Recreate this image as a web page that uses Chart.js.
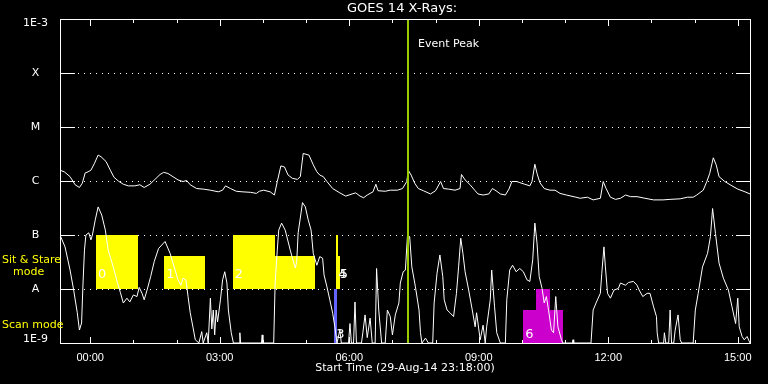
<!DOCTYPE html>
<html>
<head>
<meta charset="utf-8">
<script src="https://cdn.jsdelivr.net/npm/chart.js@4.4.1/dist/chart.umd.min.js"></script>
<style>
  html, body { margin: 0; padding: 0; background: #000; }
</style>
</head>
<body>
<canvas id="goes" width="768" height="384"></canvas>
<script>
// times are minutes after 00:00 on 30-Aug-14, fluxes are log10(W/m^2)
const startLabel = 'Start Time (29-Aug-14 23:18:00)';
const xMin = -42;
const xMax = 917;
const hourTicks = [0, 60, 120, 180, 240, 300, 360, 420, 480, 540, 600, 660, 720, 780, 840, 900];

const yTickValues = [1e-9, 1e-8, 1e-7, 1e-6, 1e-5, 1e-4, 1e-3];
const yTickLabels = ['1E-9', 'A', 'B', 'C', 'M', 'X', '1E-3'];

// long channel (1-8 A)
const longTime = [-42,-36,-28,-21,-15,-11,-7,-3,1,6,11,15,22,28,33,39,46,53,62,69,75,83,90,97,102,108,115,122,129,134,139,148,157,167,178,184,188,195,203,211,223,231,235,241,250,256,260,265,270,275,281,288,292,296,304,310,315,319,324,329,337,347,355,364,369,375,380,385,393,397,400,410,417,427,434,440,442,446,451,456,463,473,480,487,491,498,507,514,516,521,528,535,539,546,554,559,564,570,577,582,586,593,597,604,611,614,618,621,625,631,639,646,653,662,675,681,691,699,709,713,717,723,730,737,744,751,760,771,783,796,806,820,830,838,843,852,857,861,866,870,874,882,892,900,910,917];
const longLog = [-5.80,-5.83,-5.92,-6.07,-6.12,-6.04,-5.85,-5.83,-5.80,-5.67,-5.52,-5.55,-5.64,-5.80,-5.93,-6.00,-6.06,-6.09,-6.09,-6.07,-6.12,-6.06,-5.97,-5.88,-5.84,-5.86,-5.92,-5.98,-6.01,-5.99,-6.07,-6.14,-6.15,-6.17,-6.20,-6.17,-6.09,-6.14,-6.19,-6.20,-6.21,-6.23,-6.19,-6.17,-6.20,-6.26,-6.01,-5.72,-5.74,-5.89,-5.95,-5.97,-5.92,-5.49,-5.52,-5.70,-5.83,-5.89,-5.92,-6.01,-6.14,-6.22,-6.28,-6.24,-6.22,-6.28,-6.31,-6.26,-6.20,-6.06,-6.18,-6.19,-6.17,-6.17,-6.14,-6.01,-5.80,-5.89,-6.04,-6.14,-6.18,-6.24,-6.18,-6.01,-6.14,-6.15,-6.17,-6.14,-5.88,-5.98,-6.07,-6.18,-6.24,-6.26,-6.24,-6.14,-6.18,-6.24,-6.26,-6.15,-6.01,-6.01,-6.03,-6.06,-6.09,-6.01,-5.69,-5.86,-6.03,-6.14,-6.17,-6.17,-6.23,-6.26,-6.30,-6.32,-6.30,-6.35,-6.32,-6.01,-6.14,-6.30,-6.34,-6.32,-6.26,-6.29,-6.29,-6.32,-6.35,-6.35,-6.34,-6.33,-6.30,-6.30,-6.26,-6.17,-6.01,-5.86,-5.57,-5.70,-5.92,-6.01,-6.09,-6.15,-6.20,-6.24];

// short channel (0.5-4 A), -9 is the floor of the plot
const shortTime = [-42,-35,-28,-23,-18,-15,-12,-10,-8,-6,-2,1,3,7,11,16,21,25,32,38,42,46,51,55,60,65,68,72,75,79,84,89,95,104,111,118,122,126,129,133,136,139,143,146,151,155,157,162,164,167,169,171,173,175,177,181,184,187,190,192,196,199,207,208,209,238,239,240,255,257,260,262,266,271,278,281,285,287,289,293,295,299,303,307,310,315,319,323,325,329,333,337,340,343,347,349,359,361,363,366,368,370,377,379,382,385,389,392,396,398,401,405,410,413,417,420,424,429,431,435,438,441,444,447,452,457,459,461,466,470,476,478,482,486,490,492,496,500,505,509,512,515,518,521,526,531,535,537,542,546,549,551,556,558,562,565,570,577,579,583,587,592,597,602,607,611,615,618,621,624,628,631,634,637,641,644,647,650,655,657,670,671,672,696,699,703,709,711,714,716,719,723,728,734,737,744,748,755,760,763,768,774,778,783,787,788,790,797,798,800,804,806,808,811,813,817,820,822,838,841,845,851,858,862,865,869,874,880,887,892,897,900,902,906,909,913,917];
const shortLog = [-7.00,-7.22,-7.65,-8.02,-8.44,-8.76,-8.63,-7.89,-7.28,-7.00,-6.96,-7.09,-7.00,-6.72,-6.48,-6.63,-6.91,-7.28,-7.59,-7.89,-8.07,-8.26,-8.17,-8.24,-8.11,-8.14,-7.97,-8.08,-8.20,-8.02,-7.77,-7.49,-7.25,-7.12,-7.34,-7.65,-7.83,-7.93,-7.80,-7.83,-8.14,-8.44,-8.72,-8.94,-9,-8.79,-9,-8.81,-9,-8.17,-8.74,-8.39,-8.85,-8.39,-8.61,-8.20,-7.83,-7.68,-7.89,-8.39,-8.81,-9,-9,-8.81,-9,-9,-8.85,-9,-9,-7.89,-7.28,-6.91,-6.78,-6.91,-7.28,-7.43,-7.61,-7.50,-6.96,-6.59,-6.40,-6.48,-6.72,-6.91,-7.34,-7.56,-7.40,-7.43,-7.74,-7.96,-8.20,-8.45,-8.70,-9,-8.76,-9,-9,-8.64,-9,-9,-8.24,-9,-9,-8.80,-8.48,-8.90,-8.54,-9,-9,-7.62,-8.39,-9,-9,-8.39,-8.51,-8.85,-8.48,-8.26,-7.89,-7.68,-7.65,-7.00,-7.03,-7.59,-7.96,-8.39,-8.81,-9,-8.91,-9,-9,-8.26,-7.71,-7.37,-7.77,-8.20,-8.39,-8.44,-8.51,-8.08,-7.59,-7.06,-7.34,-7.68,-8.02,-8.39,-8.70,-8.44,-8.94,-8.67,-9,-8.70,-8.20,-7.65,-8.33,-8.81,-9,-9,-8.20,-7.65,-7.56,-7.68,-7.62,-7.68,-7.83,-7.86,-7.46,-6.78,-7.15,-7.77,-7.99,-8.26,-8.14,-8.39,-8.76,-8.81,-8.14,-8.70,-8.94,-9,-9,-8.94,-9,-9,-8.39,-8.26,-8.08,-7.71,-7.22,-7.59,-8.08,-8.17,-8.02,-7.99,-7.89,-7.93,-7.88,-7.86,-7.93,-8.02,-8.14,-8.08,-8.08,-8.33,-8.51,-8.81,-9,-9,-8.81,-9,-9,-8.39,-9,-9,-8.76,-8.48,-8.94,-9,-9,-8.39,-8.08,-7.59,-7.34,-7.03,-6.51,-6.97,-7.52,-7.80,-8.02,-8.33,-8.64,-8.17,-8.70,-8.88,-8.94,-8.88,-9];

// observing schedule: sit & stare (yellow) and scan (blue / magenta) blocks
const schedStart = [8, 103, 198, 257, 339, 342, 344, 602, 620];
const schedEnd = [66, 160, 257, 312, 343, 344, 346, 657, 639];
const schedBottom = [-8, -8, -8, -8, -9, -8, -8, -9, -9];
const schedTop = [-7, -7.39, -7, -7.39, -8, -7, -7.39, -8.39, -8];
const schedLabel = ['0', '1', '2', '', '3', '4', '5', '6', ''];
const schedColor = ['#ffff00', '#ffff00', '#ffff00', '#ffff00', '#6464ff', '#ffff00', '#ffff00', '#cc00cc', '#cc00cc'];

const eventPeak = 441;

function toPoints(times, logs) {
  return times.map((t, i) => ({ x: t, y: Math.pow(10, logs[i]) }));
}

function hhmm(min) {
  const h = Math.floor(min / 60);
  return String(h).padStart(2, '0') + ':00';
}

const goesFrame = {
  id: 'goesFrame',
  beforeDatasetsDraw(chart) {
    const { ctx, chartArea: a, scales: { x, y } } = chart;
    ctx.save();
    ctx.strokeStyle = '#fff';
    ctx.lineWidth = 1;
    yTickValues.slice(1, -1).forEach(v => {
      const py = Math.round(y.getPixelForValue(v)) + 0.5;
      ctx.setLineDash([]);
      ctx.beginPath();
      ctx.moveTo(a.left, py); ctx.lineTo(a.left + 15, py);
      ctx.moveTo(a.right - 14, py); ctx.lineTo(a.right, py);
      ctx.stroke();
      ctx.setLineDash([1, 5]);
      ctx.beginPath();
      ctx.moveTo(a.left + 18, py); ctx.lineTo(a.right - 14, py);
      ctx.stroke();
    });
    ctx.setLineDash([]);

    schedStart.forEach((s, i) => {
      const x0 = Math.round(x.getPixelForValue(s));
      const x1 = Math.round(x.getPixelForValue(schedEnd[i]));
      const y0 = Math.round(y.getPixelForValue(Math.pow(10, schedTop[i])));
      const y1 = Math.round(y.getPixelForValue(Math.pow(10, schedBottom[i])));
      ctx.fillStyle = schedColor[i];
      ctx.fillRect(x0, y0, Math.max(x1 - x0, 2), y1 - y0);
    });
    ctx.fillStyle = '#fff';
    ctx.font = '13px "DejaVu Sans"';
    ctx.textBaseline = 'alphabetic';
    schedStart.forEach((s, i) => {
      if (!schedLabel[i]) return;
      const x0 = x.getPixelForValue(s);
      const y1 = y.getPixelForValue(Math.pow(10, schedBottom[i]));
      const off = schedBottom[i] === -9 ? 5 : 11;
      ctx.fillText(schedLabel[i], x0 + 2, y1 - off);
    });
    ctx.restore();
  },
  afterDatasetsDraw(chart) {
    const { ctx, chartArea: a, scales: { x } } = chart;
    ctx.save();
    // event marker
    const ex = Math.round(x.getPixelForValue(eventPeak));
    ctx.fillStyle = 'rgb(153,204,0)';
    ctx.fillRect(ex - 1, a.top, 2, a.bottom - a.top);

    ctx.strokeStyle = '#fff';
    ctx.lineWidth = 1;
    ctx.strokeRect(a.left + 0.5, a.top + 0.5, a.right - a.left, a.bottom - a.top);
    ctx.beginPath();
    hourTicks.forEach(t => {
      const px = Math.round(x.getPixelForValue(t)) + 0.5;
      const len = t % 180 === 0 ? 7 : 4;
      ctx.moveTo(px, a.top); ctx.lineTo(px, a.top + len);
      ctx.moveTo(px, a.bottom + 1); ctx.lineTo(px, a.bottom + 1 - len);
    });
    ctx.stroke();

    ctx.fillStyle = '#fff';
    ctx.font = '13px "DejaVu Sans"';
    ctx.textAlign = 'center';
    ctx.textBaseline = 'middle';
    ctx.fillText('GOES 14 X-Rays:', 402, 9);

    ctx.textAlign = 'left';
    ctx.textBaseline = 'alphabetic';
    ctx.font = '11px "DejaVu Sans"';
    ctx.fillText('Event Peak', ex + 10, 47);

    ctx.fillStyle = '#ffff00';
    ctx.fillText('Sit & Stare', 2, 263);
    ctx.fillText('mode', 13, 275);
    ctx.fillText('Scan mode', 2, 328);
    ctx.restore();
  }
};

Chart.defaults.color = '#fff';
Chart.defaults.font.family = '"DejaVu Sans"';
Chart.defaults.font.size = 11;

new Chart(document.getElementById('goes'), {
  type: 'line',
  data: {
    datasets: [
      { label: 'long', data: toPoints(longTime, longLog), borderColor: '#fff', borderWidth: 1, pointRadius: 0 },
      { label: 'short', data: toPoints(shortTime, shortLog), borderColor: '#fff', borderWidth: 1, pointRadius: 0 }
    ]
  },
  options: {
    responsive: false,
    animation: false,
    layout: { padding: { top: 19, right: 18, left: 0, bottom: 0 } },
    plugins: { legend: { display: false }, tooltip: { enabled: false } },
    elements: { line: { tension: 0 } },
    scales: {
      x: {
        type: 'linear',
        min: xMin,
        max: xMax,
        afterFit: s => { s.height = 41; },
        afterBuildTicks: s => { s.ticks = hourTicks.map(v => ({ value: v })); },
        grid: { display: false },
        border: { display: false },
        ticks: {
          autoSkip: false,
          maxRotation: 0,
          padding: 0,
          color: '#fff',
          font: { family: '"Liberation Sans"', size: 11 },
          callback: v => (v % 180 === 0 ? hhmm(v) : '')
        },
        title: { display: true, text: startLabel, color: '#fff', padding: { top: 0, bottom: 9 }, font: { size: 11 } }
      },
      y: {
        type: 'logarithmic',
        min: 1e-9,
        max: 1e-3,
        afterFit: s => { s.width = 60; },
        afterBuildTicks: s => { s.ticks = yTickValues.map(v => ({ value: v })); },
        grid: { display: false },
        border: { display: false },
        ticks: {
          autoSkip: false,
          padding: 4,
          crossAlign: 'center',
          color: '#fff',
          font: { size: 11, lineHeight: 0.7 },
          callback: (v, i) => {
            if (i === 0) return [yTickLabels[i], ''];
            if (i === yTickLabels.length - 1) return ['', yTickLabels[i]];
            return yTickLabels[i];
          }
        }
      }
    }
  },
  plugins: [goesFrame]
});
</script>
</body>
</html>
